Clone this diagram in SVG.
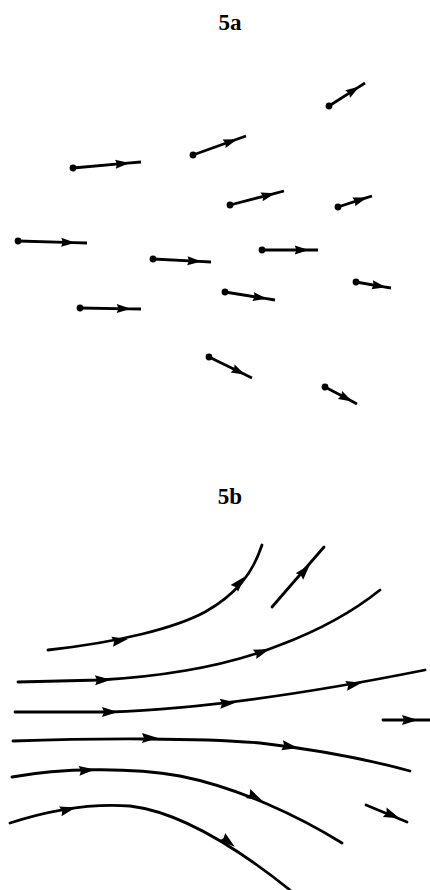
<svg xmlns="http://www.w3.org/2000/svg" width="430" height="890" viewBox="0 0 430 890">
<style>
.t{font-family:"Liberation Serif","DejaVu Serif",serif;font-weight:bold;font-size:23px;fill:#000;text-anchor:middle}
.a{fill:none;stroke:#000;stroke-width:2.8;marker-start:url(#dot);marker-mid:url(#head)}
.s{fill:none;stroke:#000;stroke-width:2.8;stroke-linecap:round}
.h{fill:#000}
</style>
<defs>
<marker id="head" markerUnits="userSpaceOnUse" viewBox="-14 -5 16 10" refX="0" refY="0" markerWidth="16" markerHeight="10" orient="auto" overflow="visible">
<path d="M2,0 L-12,-4.5 L-10.5,0 L-12,4.5 Z" fill="#000"/>
</marker>
<marker id="dot" markerUnits="userSpaceOnUse" viewBox="-4 -4 8 8" refX="0" refY="0" markerWidth="8" markerHeight="8" overflow="visible">
<circle r="3.4" fill="#000"/>
</marker>
<path id="ah" d="M6,0 L-10,-5 L-8,0 L-10,5 Z"/>
</defs>
<rect width="430" height="890" fill="#fff"/>
<text class="t" x="230" y="30">5a</text>
<text class="t" x="230" y="504">5b</text>
<g id="field-5a">
<path class="a" d="M329,106 L357.8,87.6 L365,83"/>
<path class="a" d="M193,155 L235.4,139.8 L246,136"/>
<path class="a" d="M73,168 L127.4,163.2 L141,162"/>
<path class="a" d="M230,205 L273.2,193.8 L284,191"/>
<path class="a" d="M338,207 L365.2,198.2 L372,196"/>
<path class="a" d="M18,241 L73.2,242.6 L87,243"/>
<path class="a" d="M153,259 L199.4,261.4 L211,262"/>
<path class="a" d="M262,250 L306.8,250 L318,250"/>
<path class="a" d="M80,308 L128.8,308.8 L141,309"/>
<path class="a" d="M225,292 L265,298.4 L275,300"/>
<path class="a" d="M356,282 L384,286.8 L391,288"/>
<path class="a" d="M209,357 L243.4,373.8 L252,378"/>
<path class="a" d="M325,387 L350.6,400.6 L357,404"/>
</g>
<g id="streamlines-5b">
<path class="s" d="M48,650 C120,642 175,628 205,612 C235,595 252,575 262,545"/>
<path class="s" d="M272,607 L324,547"/>
<path class="s" d="M18,682 L100,680 C170,676 230,665 280,645 C320,630 355,610 380,590"/>
<path class="s" d="M15,712 L110,712 C200,709 300,695 425,670"/>
<path class="s" d="M383,720 L430,720"/>
<path class="s" d="M13,741 C100,738 200,738 260,743 C320,750 370,760 410,771"/>
<path class="s" d="M12,777 C60,768 130,767 180,776 C240,788 300,817 342,843"/>
<path class="s" d="M366,805 L407,822"/>
<path class="s" d="M10,823 C50,810 90,803 130,806 C180,812 240,850 290,890"/>
</g>
<g id="heads-5b" class="h">
<use href="#ah" transform="translate(122,640) rotate(-10)"/>
<use href="#ah" transform="translate(241,581) rotate(-48)"/>
<use href="#ah" transform="translate(306,569) rotate(-49)"/>
<use href="#ah" transform="translate(105,680) rotate(-2)"/>
<use href="#ah" transform="translate(264,651) rotate(-20)"/>
<use href="#ah" transform="translate(112,712) rotate(0)"/>
<use href="#ah" transform="translate(230,703) rotate(-4)"/>
<use href="#ah" transform="translate(356,684) rotate(-11)"/>
<use href="#ah" transform="translate(412,720) rotate(0)"/>
<use href="#ah" transform="translate(152,738) rotate(0)"/>
<use href="#ah" transform="translate(292,747) rotate(10)"/>
<use href="#ah" transform="translate(89,770) rotate(-5)"/>
<use href="#ah" transform="translate(257,798) rotate(26)"/>
<use href="#ah" transform="translate(394,816) rotate(22)"/>
<use href="#ah" transform="translate(70,809) rotate(-14)"/>
<use href="#ah" transform="translate(230,843) rotate(38)"/>
</g>
</svg>
